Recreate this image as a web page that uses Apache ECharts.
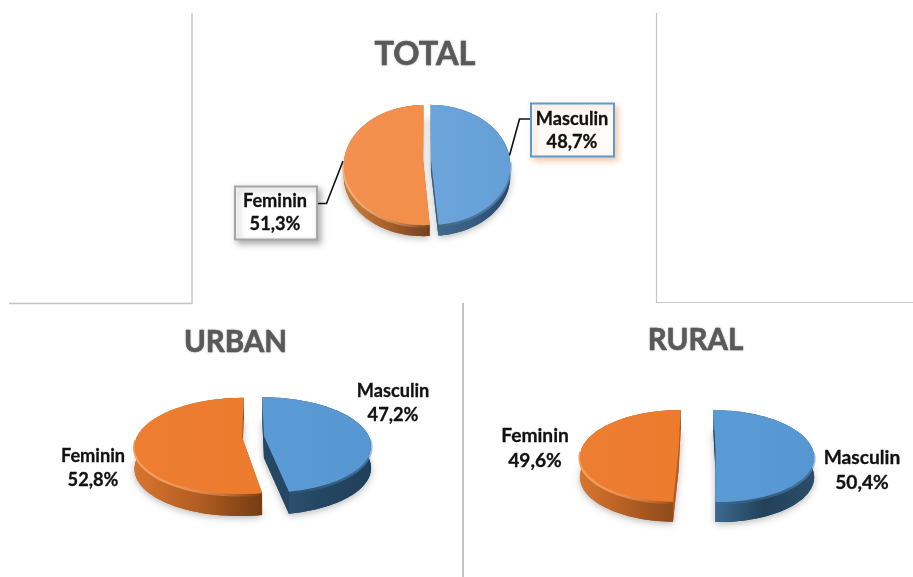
<!DOCTYPE html>
<html>
<head>
<meta charset="utf-8">
<script src="https://cdn.jsdelivr.net/npm/echarts@6/dist/echarts.min.js"></script>
<style>html,body{margin:0;padding:0;background:#fff}#c{width:913px;height:577px}</style>
</head>
<body>
<div id="c"></div>
<script>
// Data
const categories = ['Masculin', 'Feminin'];
const totalValues = [48.7, 51.3];
const urbanValues = [47.2, 52.8];
const ruralValues = [50.4, 49.6];
const panelTitles = ['TOTAL', 'URBAN', 'RURAL'];

// Layout & styling (separate from data)
const FONT = 'Lato, "Open Sans", sans-serif';
const panels = [
  { values: totalValues, title: panelTitles[0], titleX: 425, titleY: 54.5, titleSize: 32.5,
    cx: 427, cy: 160, R: 79, k: 0.083, A: 59.6, depth: 11, e: 0.05, fontSize: 18.2, lineGap: 23.5,
    colors: [{ top: ['#6ba5da', '#649fd6'], wall: ['#44698c', '#375d80', '#29496a'], rim: ['rgba(106,159,208,0)', 'rgba(106,159,208,0.7)'] },
             { top: ['#f29050', '#f48f4a'], wall: ['#c9813f', '#a9602c', '#6f4020'], rim: ['rgba(251,178,119,1)', 'rgba(251,178,119,0.6)', 'rgba(251,178,119,0)'] }],
    labels: [[572, 119], [275, 201]],
    boxes: [{ x: 531, y: 103.5, w: 83, h: 53, stroke: '#5b9bd5', fill: '#fefbf9', shadow: 'rgba(237,125,49,0.4)' },
            { x: 235, y: 186.5, w: 82, h: 53, stroke: '#a5a5a5', fill: '#ffffff', shadow: 'rgba(0,0,0,0.3)' }],
    leaders: [[[509.5, 155.5], [519.5, 119], [531, 119]], [[343, 161], [326.5, 203.5], [317, 203.5]]] },
  { values: urbanValues, title: panelTitles[1], titleX: 235.5, titleY: 342.5, titleSize: 29.5,
    cx: 253, cy: 436.5, R: 105, k: 0.187, A: 46.3, depth: 22, e: 0.105, fontSize: 18.2, lineGap: 24,
    colors: [{ top: ['#5b9bd5', '#5696d2'], wall: ['#2f5879', '#264763', '#1f3f5a'], rim: ['rgba(94,151,203,0)', 'rgba(94,151,203,0.6)'] },
             { top: ['#ed7d31', '#ec7b2e'], wall: ['#d8752f', '#b25d22', '#743c12'], rim: ['rgba(248,161,98,1)', 'rgba(248,161,98,0.7)', 'rgba(248,161,98,0)'] }],
    labels: [[393, 391], [93, 456]] },
  { values: ruralValues, title: panelTitles[2], titleX: 695.5, titleY: 340.5, titleSize: 29.5,
    cx: 697, cy: 450, R: 97.5, k: 0.13, A: 45.2, depth: 20, e: 0.189, fontSize: 19.2, lineGap: 25,
    colors: [{ top: ['#5b9bd5', '#5696d2'], wall: ['#3c6c93', '#234159', '#2b4d6b'], rim: ['rgba(94,151,203,0)', 'rgba(94,151,203,0.6)'] },
             { top: ['#ed7d31', '#ec7b2e'], wall: ['#d8752f', '#b25d22', '#86481a'], rim: ['rgba(248,161,98,1)', 'rgba(248,161,98,0.7)', 'rgba(248,161,98,0)'] }],
    labels: [[862, 458], [535, 436]] }
];
const rules = [
  { points: [[192, 13], [192, 303.5], [9, 303.5]], width: 1.4 },
  { points: [[656.5, 13], [656.5, 302.5], [913, 302.5]], width: 1.2 },
  { points: [[463, 303], [463, 577]], width: 2 }
];

function project(p, u, v) {
  const w = 1 - p.k * v;
  return [p.cx + p.R * u / w, p.cy + p.A * v / w];
}
function hGrad(stops) {
  return { type: 'linear', x: 0, y: 0, x2: 1, y2: 0,
    colorStops: stops.map((c, i) => ({ offset: i / (stops.length - 1), color: c })) };
}
function sliceRender(p) {
  const sum = p.values.reduce((a, b) => a + b, 0);
  return function (params, api) {
    const idx = params.dataIndex;
    const val = api.value(1);
    let before = 0;
    for (let i = 0; i < idx; i++) before += p.values[i];
    const a0 = before / sum * 2 * Math.PI, a1 = (before + val) / sum * 2 * Math.PI;
    const mid = (a0 + a1) / 2;
    const ox = p.e * Math.sin(mid), oy = -p.e * Math.cos(mid);
    const pt = (a, r, dy) => {
      const q = project(p, ox + r * Math.sin(a), oy - r * Math.cos(a));
      return [q[0], q[1] + (dy || 0)];
    };
    const steps = 90, arc = [], arcB = [], rim = [];
    for (let i = 0; i <= steps; i++) {
      const a = a0 + (a1 - a0) * i / steps;
      arc.push(pt(a, 1, 0));
      arcB.push(pt(a, 1, p.depth));
      if (-Math.cos(a) > 0.02) rim.push(pt(a, 1, 1));
    }
    const c = pt(0, 0, 0), cB = pt(0, 0, p.depth);
    const col = p.colors[idx];
    const kids = [];
    kids.push({ type: 'polygon', shape: { points: [cB].concat(arcB) },
      style: { fill: col.wall[1], shadowBlur: 7, shadowColor: 'rgba(0,0,0,0.28)', shadowOffsetY: 2 } });
    [arc[0], arc[steps]].forEach((e, i) => {
      const eB = i ? arcB[steps] : arcB[0];
      kids.push({ type: 'polygon', shape: { points: [c, e, eB, cB] }, style: { fill: col.wall[1] } });
    });
    kids.push({ type: 'polygon', shape: { points: arc.concat(arcB.slice().reverse()) },
      style: { fill: hGrad(col.wall) } });
    if (rim.length > 1) kids.push({ type: 'polyline', shape: { points: rim },
      style: { fill: null, stroke: hGrad(col.rim), lineWidth: 3 } });
    kids.push({ type: 'polygon', shape: { points: [c].concat(arc) }, style: { fill: hGrad(col.top) } });
    if (p.leaders) kids.push({ type: 'polyline', shape: { points: p.leaders[idx] },
      style: { fill: null, stroke: '#111', lineWidth: 1.6 } });
    if (p.boxes) {
      const b = p.boxes[idx];
      kids.push({ type: 'rect', shape: { x: b.x, y: b.y, width: b.w, height: b.h },
        style: { fill: b.fill, stroke: b.stroke, lineWidth: 2, shadowBlur: 6, shadowOffsetX: 3, shadowOffsetY: 3, shadowColor: b.shadow } });
    }
    const lab = p.labels[idx];
    [api.value(2), String(val.toFixed(1)).replace('.', ',') + '%'].forEach((t, i) => {
      kids.push({ type: 'text', x: lab[0], y: lab[1] + i * p.lineGap,
        style: { text: t, fill: '#111', stroke: '#111', lineWidth: 0.3, font: 'bold ' + p.fontSize + 'px ' + FONT, align: 'center', verticalAlign: 'middle' } });
    });
    return { type: 'group', children: kids };
  };
}

const chart = echarts.init(document.getElementById('c'), null, { renderer: 'canvas' });
chart.setOption({
  animation: false,
  backgroundColor: '#ffffff',
  title: panels.map(p => ({
    text: p.title, left: p.titleX, top: p.titleY, padding: 0, textAlign: 'center', textVerticalAlign: 'middle',
    textStyle: { color: '#595959', fontFamily: FONT, fontWeight: 'bold', fontSize: p.titleSize,
      textBorderColor: '#595959', textBorderWidth: 0.5,
      textShadowColor: 'rgba(0,0,0,0.25)', textShadowBlur: 2 }
  })),
  graphic: rules.map(r => ({ type: 'polyline', silent: true, shape: { points: r.points },
    style: { fill: null, stroke: '#c4c4c4', lineWidth: r.width } })),
  series: panels.map(p => ({
    type: 'custom', coordinateSystem: 'none', silent: true, clip: false,
    name: p.title,
    data: categories.map((c, i) => [i, p.values[i], c]),
    renderItem: sliceRender(p)
  }))
});
</script>
</body>
</html>
